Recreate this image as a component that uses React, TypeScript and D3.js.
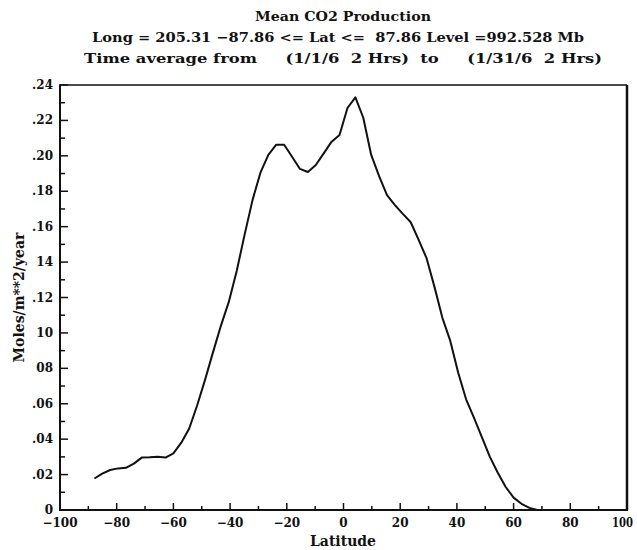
import React from "react";
import * as d3 from "d3";

const latitudes = [
  -87.86, -85.1, -82.31, -79.53, -76.74, -73.95, -71.16, -68.37, -65.58, -62.79,
  -60.0, -57.21, -54.42, -51.63, -48.84, -46.04, -43.25, -40.46, -37.67, -34.88,
  -32.09, -29.3, -26.51, -23.72, -20.93, -18.14, -15.35, -12.56, -9.77, -6.98,
  -4.19, -1.4, 1.4, 4.19, 6.98, 9.77, 12.56, 15.35, 18.14, 20.93,
  23.72, 26.51, 29.3, 32.09, 34.88, 37.67, 40.46, 43.25, 46.04, 48.84,
  51.63, 54.42, 57.21, 60.0, 62.79, 65.58, 68.37,
];

const co2Values = [
  0.0178, 0.0205, 0.0226, 0.0235, 0.0238, 0.0262, 0.0296, 0.0298, 0.0301, 0.0296,
  0.032, 0.038, 0.046, 0.059, 0.0735, 0.089, 0.104, 0.1175, 0.135, 0.1555,
  0.175, 0.1905, 0.2005, 0.2063, 0.2063, 0.1995, 0.1926, 0.1909, 0.1948, 0.2014,
  0.208, 0.2118, 0.227, 0.233, 0.2215, 0.2005, 0.1885, 0.1778, 0.1722, 0.1672,
  0.1625, 0.1525, 0.1422, 0.126, 0.1085, 0.0955, 0.0775, 0.0625, 0.052, 0.041,
  0.03, 0.021, 0.013, 0.007, 0.0035, 0.0012, 0.0,
];

const xTickValues = [-100, -80, -60, -40, -20, 0, 20, 40, 60, 80, 100];
const xTickLabels = ["\u2212100", "\u221280", "\u221260", "\u221240", "\u221220", "0", "20", "40", "60", "80", "100"];
const yTickValues = [0.24, 0.22, 0.2, 0.18, 0.16, 0.14, 0.12, 0.1, 0.08, 0.06, 0.04, 0.02, 0];
const yTickLabels = [".24", ".22", ".20", ".18", ".16", "14", ".12", "10", "08", ".06", ".04", ".02", "0"];

const titleLines = [
  "Mean CO2 Production",
  "Long = 205.31 \u221287.86 <= Lat <=  87.86 Level =992.528 Mb",
  "Time average from     (1/1/6  2 Hrs)  to     (1/31/6  2 Hrs)",
];

const W = 637;
const H = 550;
const left = 60;
const right = 627;
const top = 85;
const bottom = 510;
const FONT = "'DejaVu Serif', 'Liberation Serif', serif";

export default function App() {
  const x = d3.scaleLinear().domain([-100, 100]).range([left, right]);
  const y = d3.scaleLinear().domain([0, 0.24]).range([bottom, top]);
  const line = d3
    .line<number>()
    .x((_, i) => x(latitudes[i]))
    .y((d) => y(d));
  const xMinor = d3.range(-90, 100, 20);
  const yMinor = d3.range(0.01, 0.24, 0.02);

  return (
    <div style={{ position: "absolute", left: 0, top: 0 }}>
      <svg width={W} height={H} style={{ display: "block", background: "#fff" }}>
        <g fontFamily={FONT} fontWeight="bold" fill="#111" textAnchor="middle">
          <text x={343} y={21} fontSize={13.5} textLength={176} lengthAdjust="spacingAndGlyphs">
            {titleLines[0]}
          </text>
          <text x={338} y={42} fontSize={13.5} textLength={492} lengthAdjust="spacingAndGlyphs" style={{ whiteSpace: "pre" }}>
            {titleLines[1]}
          </text>
          <text x={343} y={63} fontSize={13.5} textLength={518} lengthAdjust="spacingAndGlyphs" style={{ whiteSpace: "pre" }}>
            {titleLines[2]}
          </text>
        </g>

        {/* frame */}
        <line x1={left} x2={right} y1={top} y2={top} stroke="#111" strokeWidth={1.5} />
        <line x1={right} x2={right} y1={top} y2={bottom} stroke="#111" strokeWidth={2.5} />
        <line x1={left} x2={left} y1={top - 0.75} y2={bottom + 1} stroke="#111" strokeWidth={2} />
        <line x1={left - 1} x2={right + 1} y1={bottom} y2={bottom} stroke="#111" strokeWidth={2} />

        {/* y ticks */}
        {yTickValues.map((v) => (
          <line key={"ym" + v} x1={left} x2={left + 8} y1={y(v)} y2={y(v)} stroke="#111" strokeWidth={1.5} />
        ))}
        {yMinor.map((v) => (
          <line key={"yn" + v} x1={left} x2={left + 5} y1={y(v)} y2={y(v)} stroke="#111" strokeWidth={1.5} />
        ))}
        {/* x ticks */}
        {xTickValues.map((v) => (
          <line key={"xm" + v} x1={x(v)} x2={x(v)} y1={bottom} y2={bottom - 7} stroke="#111" strokeWidth={1.5} />
        ))}
        {xMinor.map((v) => (
          <line key={"xn" + v} x1={x(v)} x2={x(v)} y1={bottom} y2={bottom - 4} stroke="#111" strokeWidth={1.5} />
        ))}

        <g fontFamily={FONT} fontWeight="bold" fill="#111" fontSize={12}>
          {yTickValues.map((v, i) => (
            <text key={"yl" + v} x={53} y={y(v) + 4} textAnchor="end">
              {yTickLabels[i]}
            </text>
          ))}
          {xTickValues.map((v, i) => {
            const last = i === xTickValues.length - 1;
            return (
              <text
                key={"xl" + v}
                x={last ? W - 4 : x(v)}
                y={527}
                textAnchor={last ? "end" : "middle"}
                textLength={last ? 21 : undefined}
                lengthAdjust="spacingAndGlyphs"
              >
                {xTickLabels[i]}
              </text>
            );
          })}
        </g>

        <text x={343} y={546} fontFamily={FONT} fontWeight="bold" fontSize={14} textAnchor="middle" fill="#111">
          Latitude
        </text>
        <text
          transform={`translate(24, ${(top + bottom) / 2}) rotate(-90)`}
          fontFamily={FONT}
          fontWeight="bold"
          fontSize={14}
          textAnchor="middle"
          fill="#111"
        >
          Moles/m**2/year
        </text>

        <path d={line(co2Values) || ""} fill="none" stroke="#111" strokeWidth={2} strokeLinejoin="round" />
      </svg>
    </div>
  );
}
